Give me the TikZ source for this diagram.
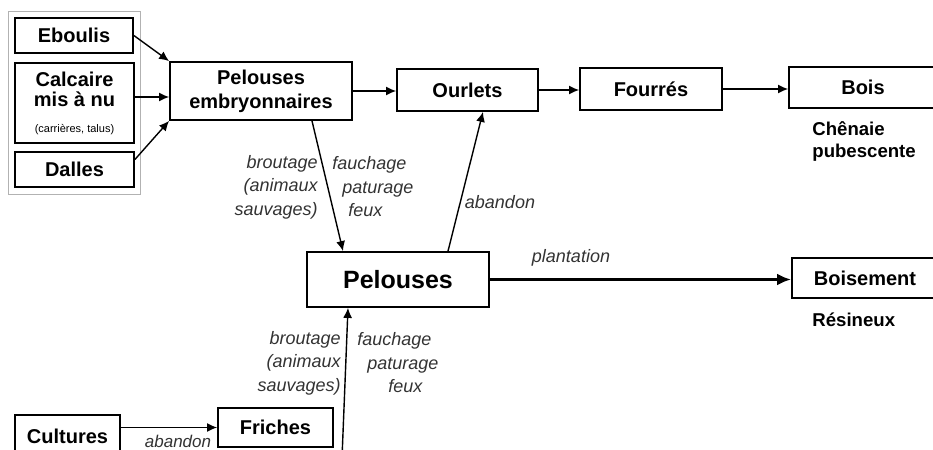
\documentclass[tikz,border=0pt]{standalone}
\usepackage{fontspec}
\setmainfont{Liberation Sans}
\usetikzlibrary{arrows.meta}

\begin{document}
\begin{tikzpicture}[x=0.5pt,y=-0.5pt]
  \tikzstyle{boite}=[draw, line width=0.9pt, font=\fontsize{10}{12}\selectfont\bfseries, align=center, inner sep=0];
  \tikzstyle{fleche}=[line width=0.7pt, -{Latex[length=5pt,width=4.5pt]}];
  \tikzstyle{action}=[font=\fontsize{9}{11.75}\selectfont\itshape, text=black!80, inner sep=0];
  \tikzstyle{espece}=[font=\fontsize{9.3}{11}\selectfont\bfseries, align=left, anchor=west, inner sep=0];

  \clip (0,0) rectangle (933,450);

  % roches nues
  \draw[gray!60, line width=0.5pt] (8,11) rectangle (140,194);
  \node[boite, minimum width=59pt, minimum height=17.5pt] (eboulis) at (74,35.5) {Eboulis};
  \node[boite, minimum width=59.5pt, minimum height=40pt] (calcaire) at (74.5,103)
    {Calcaire\\[-2pt]mis à nu\\[1pt]{\fontsize{5.5}{6}\selectfont\mdseries (carrières, talus)}};
  \node[boite, minimum width=59.5pt, minimum height=17.5pt] (dalles) at (74.5,169.5) {Dalles};

  % dynamique
  \node[boite, minimum width=91pt, minimum height=29pt] (embryo) at (261,91) {Pelouses\\embryonnaires};
  \node[boite, minimum width=70.5pt, minimum height=21pt] (ourlets) at (467.5,90) {Ourlets};
  \node[boite, minimum width=71pt, minimum height=21pt] (fourres) at (651,89) {Fourrés};
  \node[boite, minimum width=74pt, minimum height=20.5pt] (bois) at (863,87.5) {Bois};
  \node[espece] (chenaie) at (812,141) {Chênaie\\pubescente};

  \node[boite, minimum width=91pt, minimum height=27.5pt, font=\fontsize{12.5}{14}\selectfont\bfseries] (pelouses) at (398,279.5) {Pelouses};
  \node[boite, minimum width=73pt, minimum height=20pt] (boisement) at (865,278) {Boisement};
  \node[espece] (resineux) at (812,320) {Résineux};

  \node[boite, minimum width=52.5pt, minimum height=21pt] (cultures) at (67.5,436) {Cultures};
  \node[boite, minimum width=57.5pt, minimum height=19.5pt] (friches) at (275.5,427.5) {Friches};
  \coordinate (bas) at (342,458);

  % fleches
  \draw[fleche] (eboulis.east) -- (embryo.north west);
  \draw[fleche] ([yshift=3pt]calcaire.east) -- ([yshift=3pt]calcaire.east -| embryo.west);
  \draw[fleche] ([yshift=5pt]dalles.east) -- (embryo.south west);
  \draw[fleche] (embryo.east) -- (embryo.east -| ourlets.west);
  \draw[fleche] (ourlets.east) -- (ourlets.east -| fourres.west);
  \draw[fleche] (fourres.east) -- (fourres.east -| bois.west);
  \draw[fleche] ([xshift=25.5pt]embryo.south) -- ([xshift=-27.5pt]pelouses.north);
  \draw[fleche] ([xshift=25pt]pelouses.north) -- ([xshift=7.75pt]ourlets.south);
  \draw[line width=1.5pt, -{Latex[length=7pt,width=6pt]}] (pelouses.east) -- (pelouses.east -| boisement.west);
  \draw[fleche] (cultures.east |- friches.west) -- (friches.west);
  \draw[fleche] (bas) -- ([xshift=-25pt]pelouses.south);

  % etiquettes
  \node[action, align=right, anchor=east] (brout1) at (318,187) {broutage\\(animaux\\sauvages)};
  \node[action, align=left, anchor=west] (fauch1) at (332,187) {fauchage\\\hspace*{5pt}paturage\\\hspace*{8pt}feux};
  \node[action] (aband1) at (500,202) {abandon};
  \node[action] (plant) at (571,258) {plantation};
  \node[action, align=right, anchor=east] (brout2) at (341,363) {broutage\\(animaux\\sauvages)};
  \node[action, align=left, anchor=west] (fauch2) at (357,363) {fauchage\\\hspace*{5pt}paturage\\\hspace*{15.5pt}feux};
  \node[action, font=\fontsize{8.5}{10}\selectfont\itshape] (aband2) at (178,441) {abandon};
\end{tikzpicture}
\end{document}
